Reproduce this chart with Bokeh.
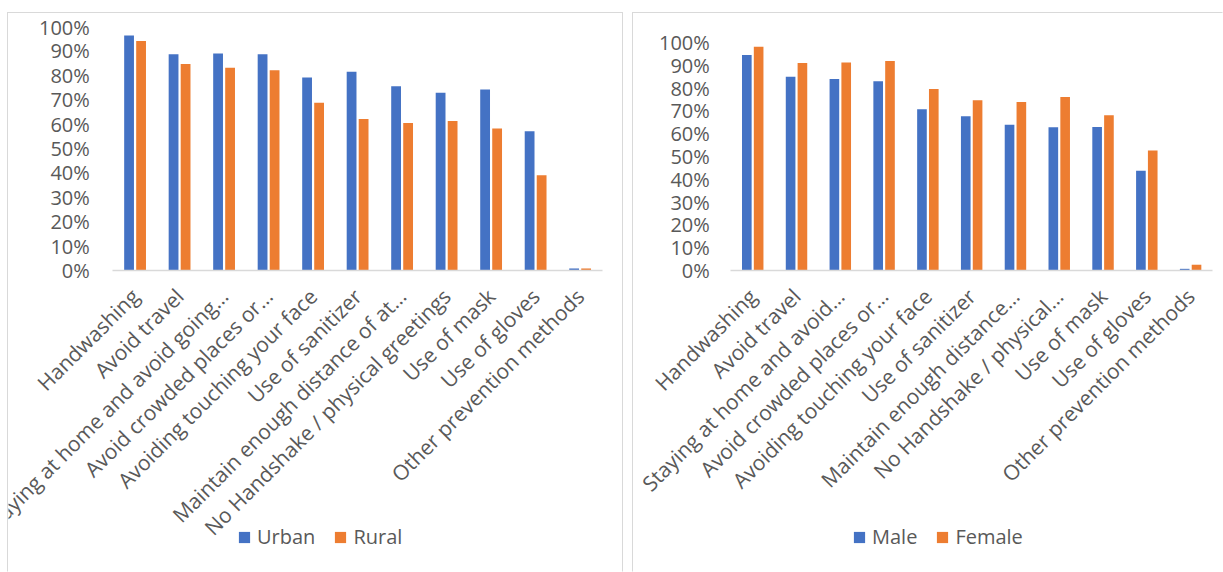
import math
from bokeh.plotting import figure
from bokeh.layouts import row
from bokeh.models import (Range1d, NumeralTickFormatter, FixedTicker,
                          ColumnDataSource, Legend, LegendItem)
from bokeh.transform import dodge
from bokeh.embed import file_html
from bokeh.resources import INLINE

# ---------------- data ----------------
left_categories = [
    "Handwashing", "Avoid travel", "Staying at home and avoid going…",
    "Avoid crowded places or…", "Avoiding touching your face",
    "Use of sanitizer", "Maintain enough distance of at…",
    "No Handshake / physical greetings", "Use of mask", "Use of gloves",
    "Other prevention methods",
]
urban = [0.963, 0.886, 0.889, 0.886, 0.791, 0.815, 0.755, 0.729, 0.742, 0.571, 0.008]
rural = [0.941, 0.846, 0.831, 0.821, 0.688, 0.621, 0.604, 0.613, 0.582, 0.390, 0.008]

right_categories = [
    "Handwashing", "Avoid travel", "Staying at home and avoid…",
    "Avoid crowded places or…", "Avoiding touching your face",
    "Use of sanitizer", "Maintain enough distance…",
    "No Handshake / physical…", "Use of mask", "Use of gloves",
    "Other prevention methods",
]
male = [0.946, 0.850, 0.840, 0.830, 0.708, 0.677, 0.640, 0.628, 0.630, 0.438, 0.007]
female = [0.982, 0.910, 0.913, 0.919, 0.796, 0.747, 0.739, 0.761, 0.681, 0.526, 0.025]

y_ticks = [0.0, 0.1, 0.2, 0.3, 0.4, 0.5, 0.6, 0.7, 0.8, 0.9, 1.0]

BLUE = "#4472C4"
ORANGE = "#ED7D31"
TEXT = "#595959"
FONT = "Open Sans"


def make_chart(cats, a, b, names, fw, x_rng, y_rng, y_standoff, legend_xy,
               outer_margin, border_styles):
    idx = list(range(len(cats)))
    src = ColumnDataSource(dict(idx=idx, a=a, b=b))
    p = figure(x_range=Range1d(*x_rng), y_range=Range1d(*y_rng),
               frame_width=fw, frame_height=558, output_backend="svg",
               toolbar_location=None, min_border=0, margin=outer_margin,
               styles=border_styles)
    r1 = p.vbar(x=dodge("idx", -0.135), top="a", width=0.22, source=src,
                fill_color=BLUE, line_color=None)
    r2 = p.vbar(x=dodge("idx", 0.135), top="b", width=0.22, source=src,
                fill_color=ORANGE, line_color=None)

    p.outline_line_color = None
    p.xgrid.grid_line_color = None
    p.ygrid.grid_line_color = None

    xa = p.xaxis[0]
    xa.fixed_location = 0
    xa.bounds = (-0.5, len(cats) - 0.5)
    xa.ticker = FixedTicker(ticks=idx)
    xa.major_label_overrides = {i: c for i, c in zip(idx, cats)}
    xa.major_label_orientation = math.pi / 4
    xa.axis_line_color = "#d9d9d9"
    xa.axis_line_width = 1.5
    xa.major_tick_line_color = None
    xa.minor_tick_line_color = None
    xa.major_tick_out = 0
    xa.major_tick_in = 0
    xa.minor_tick_out = 0
    xa.minor_tick_in = 0
    xa.major_label_text_font = FONT
    xa.major_label_text_font_size = "21px"
    xa.major_label_text_color = TEXT
    xa.major_label_standoff = 22

    ya = p.yaxis[0]
    ya.fixed_location = -0.5
    ya.bounds = (0, 1)
    ya.ticker = FixedTicker(ticks=y_ticks)
    ya.formatter = NumeralTickFormatter(format="0%")
    ya.axis_line_color = None
    ya.major_tick_line_color = None
    ya.minor_tick_line_color = None
    ya.major_tick_out = 0
    ya.major_tick_in = 0
    ya.minor_tick_out = 0
    ya.minor_tick_in = 0
    ya.major_label_text_font = FONT
    ya.major_label_text_font_size = "20px"
    ya.major_label_text_color = TEXT
    ya.major_label_standoff = y_standoff

    lg = Legend(items=[LegendItem(label=names[0], renderers=[r1]),
                       LegendItem(label=names[1], renderers=[r2])],
                location=legend_xy, orientation="horizontal",
                border_line_color=None, background_fill_alpha=0,
                padding=0, margin=0, spacing=18, label_standoff=6,
                glyph_width=14, glyph_height=14, label_height=14,
                label_text_font=FONT, label_text_font_size="20px",
                label_text_color=TEXT, label_text_baseline="middle")
    p.add_layout(lg)
    return p


left_border = {"border": "1px solid #d9d9d9", "border-bottom-color": "transparent"}
right_border = {"border": "1px solid #d9d9d9", "border-bottom-color": "transparent",
                "border-right-color": "transparent"}

p1 = make_chart(left_categories, urban, rural, ["Urban", "Rural"], fw=614,
                x_rng=(-2.844, 10.997), y_rng=(-1.2428, 1.0535),
                y_standoff=23, legend_xy=(229, 23), outer_margin=(12, 0, 0, 7),
                border_styles=left_border)
p2 = make_chart(right_categories, male, female, ["Male", "Female"], fw=589,
                x_rng=(-2.7228, 10.774), y_rng=(-1.3304, 1.1278),
                y_standoff=21, legend_xy=(219, 23), outer_margin=(12, 0, 0, 0),
                border_styles=right_border)

layout = row(p1, p2, spacing=9)

with open("out.html", "w") as f:
    f.write(file_html(layout, INLINE))
